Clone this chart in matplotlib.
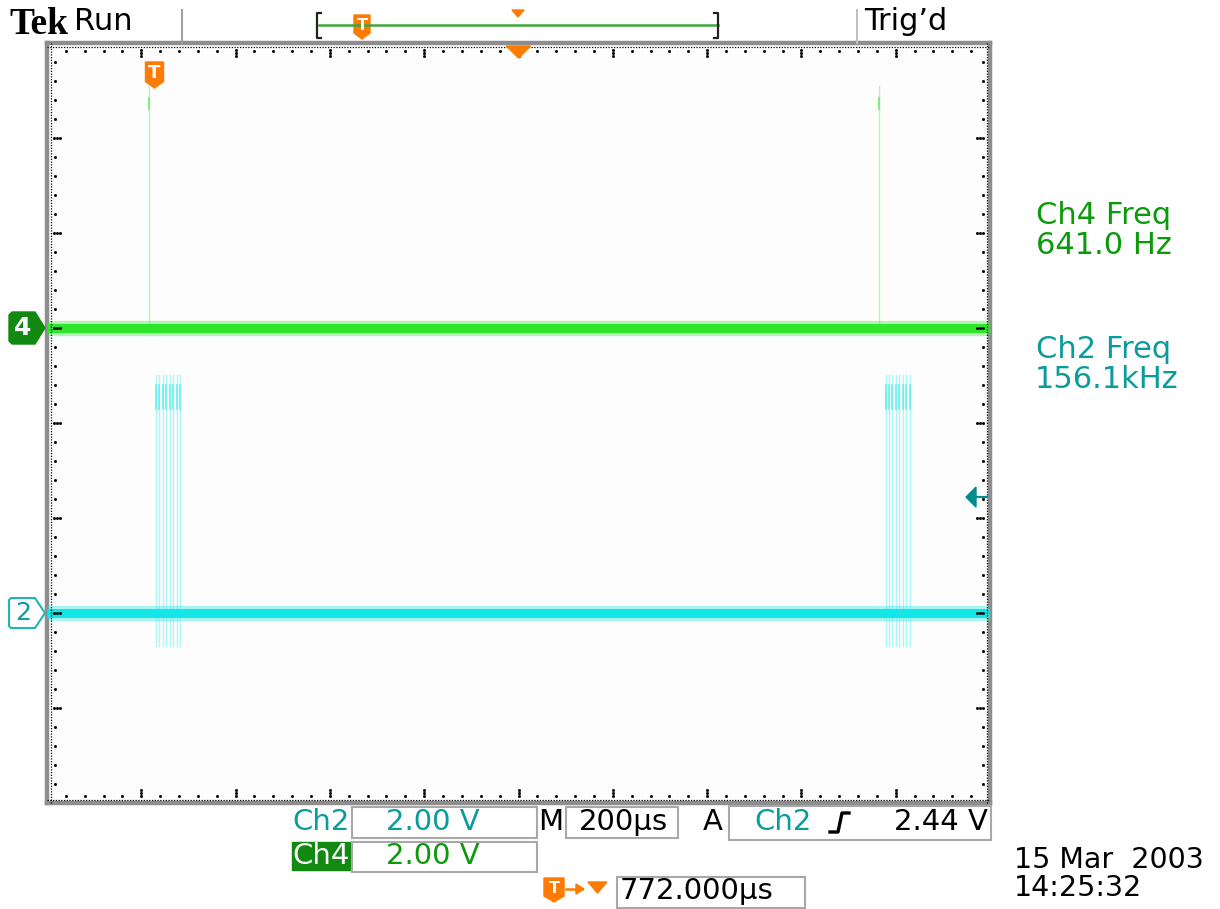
import matplotlib
matplotlib.use("Agg")
import matplotlib.pyplot as plt
from matplotlib.patches import Polygon, Rectangle
from matplotlib.transforms import blended_transform_factory

# ---- acquisition settings -------------------------------------------------
time_per_div_us = 200.0
volts_per_div = 2.0
n_hdiv, n_vdiv = 10, 8
record_us = time_per_div_us * n_hdiv
ch4_offset_div = 1.0
ch2_offset_div = -2.0
trigger_level_v = 2.44
trigger_delay_us = 772.0           # trigger point -> screen centre

# ---- Ch4: narrow pulses ----------------------------------------------------
ch4_pulse_times_us = [216.0, 1764.0]
ch4_pulse_peak_v = [5.1, 5.1]
ch4_pulse_bright_v = (4.6, 4.85)

# ---- Ch2: short bursts of fast edges --------------------------------------
ch2_burst1_us = [231, 238, 245, 252, 260, 267, 275, 282]
ch2_burst2_us = [1779, 1786, 1793, 1800, 1808, 1815, 1822, 1830]
ch2_burst_high_v = 5.0
ch2_burst_low_v = -0.7
ch2_burst_bright_v = (4.3, 4.8)

# ---- readouts --------------------------------------------------------------
ch4_freq_text = "641.0 Hz"
ch2_freq_text = "156.1kHz"
date_text = "15 Mar  2003"
time_text = "14:25:32"

C4 = "#2ee62e"
C4_PALE = "#b8f4b8"
C4_TXT = "#0c9a0c"
C4_BOX = "#128a12"
C2 = "#14e6e6"
C2_PALE = "#aef6f6"
C2_TXT = "#0a9c9c"
ORANGE = "#ff7a00"
GRAY = "#8e8e8e"
FONT = "DejaVu Sans"
FS = 21

W, H = 1220, 909
fig = plt.figure(figsize=(W / 100, H / 100), dpi=100)
fig.patch.set_facecolor("white")

# screen area
L, R, T, B = 47, 990, 43, 803
ax = fig.add_axes([L / W, 1 - B / H, (R - L) / W, (B - T) / H])
ax.set_xlim(0, n_hdiv)
ax.set_ylim(-n_vdiv / 2, n_vdiv / 2)
ax.set_facecolor("#fdfdfd")
ax.set_xticks([])
ax.set_yticks([])
for s in ax.spines.values():
    s.set_color(GRAY)
    s.set_linewidth(3.2)


def xdiv(t_us):
    return t_us / time_per_div_us


def ydiv(v, offset):
    return offset + v / volts_per_div


# graticule dots along the border
px, py = 1 / (R - L), 1 / (B - T)
tr = ax.transAxes
dot = dict(transform=tr, ls="none", marker="s", ms=1.0, color="black", clip_on=False, zorder=6)
for yb in (3.5 * py, 1 - 3.5 * py):
    ax.plot([0, 1], [yb, yb], transform=tr, color="black", lw=0.9, ls=(0, (1, 1.2)), clip_on=False, zorder=6)
for xb in (3.5 * px, 1 - 3.5 * px):
    ax.plot([xb, xb], [0, 1], transform=tr, color="black", lw=0.9, ls=(0, (1, 1.2)), clip_on=False, zorder=6)

hx, hy = [], []
for i in range(1, n_hdiv * 5):
    f = i / (n_hdiv * 5)
    offs = [7, 10, 13] if i % 5 == 0 else [7.5]
    for o in offs:
        hx += [f, f]
        hy += [1 - o * py, o * py]
for i in range(1, n_vdiv * 5):
    f = i / (n_vdiv * 5)
    offs = [7, 10, 13] if i % 5 == 0 else [7.5]
    for o in offs:
        hx += [o * px, 1 - o * px]
        hy += [f, f]
ax.plot(hx, hy, **dot)

# ---- Ch4 trace ---------------------------------------------------------------
for t, vp in zip(ch4_pulse_times_us, ch4_pulse_peak_v):
    ax.plot([xdiv(t)] * 2, [ydiv(0, ch4_offset_div), ydiv(vp, ch4_offset_div)],
            color=C4_PALE, lw=1.0, zorder=2)
    ax.plot([xdiv(t)] * 2, [ydiv(ch4_pulse_bright_v[0], ch4_offset_div),
                            ydiv(ch4_pulse_bright_v[1], ch4_offset_div)],
            color="#7ee87e", lw=1.3, zorder=2)
y4 = ydiv(0, ch4_offset_div)
ax.plot([0, n_hdiv], [y4, y4], color=C4, lw=11, alpha=0.35, solid_capstyle="butt", zorder=3)
ax.plot([0, n_hdiv], [y4, y4], color=C4, lw=6.5, solid_capstyle="butt", zorder=3)

# ---- Ch2 trace ---------------------------------------------------------------
for burst in (ch2_burst1_us, ch2_burst2_us):
    for t in burst:
        ax.plot([xdiv(t)] * 2, [ydiv(ch2_burst_low_v, ch2_offset_div),
                                ydiv(ch2_burst_high_v, ch2_offset_div)],
                color=C2_PALE, lw=1.0, zorder=2)
        ax.plot([xdiv(t)] * 2, [ydiv(ch2_burst_bright_v[0], ch2_offset_div),
                                ydiv(ch2_burst_bright_v[1], ch2_offset_div)],
                color="#6eeeee", lw=1.2, zorder=2)
y2 = ydiv(0, ch2_offset_div)
ax.plot([0, n_hdiv], [y2, y2], color=C2, lw=11, alpha=0.35, solid_capstyle="butt", zorder=3)
ax.plot([0, n_hdiv], [y2, y2], color=C2, lw=6.5, solid_capstyle="butt", zorder=3)

# trigger level arrow on the right edge
bt = blended_transform_factory(ax.transAxes, ax.transData)
ytl = ydiv(trigger_level_v, ch2_offset_div)
ax.plot([1 - 15 * px, 1 - 3 * px], [ytl, ytl], transform=bt, color="#008c8c", lw=1.6, clip_on=False, zorder=7)
ax.add_patch(Polygon([(1 - 24 * px, ytl), (1 - 14 * px, ytl + 10 / 95), (1 - 14 * px, ytl - 10 / 95)],
                     closed=True, transform=bt, color="#008c8c", clip_on=False, zorder=7))

# trigger marker and centre marker at the top of the screen
t_trig = record_us / 2 - trigger_delay_us
bx = blended_transform_factory(ax.transData, ax.transAxes)

xt = xdiv(t_trig)
wdiv = 18 / ((R - L) / n_hdiv)
ytop, hfrac = 1 - 19 * py, 26 * py
pts = [(xt - wdiv / 2, ytop), (xt + wdiv / 2, ytop), (xt + wdiv / 2, ytop - hfrac * 0.75),
       (xt, ytop - hfrac), (xt - wdiv / 2, ytop - hfrac * 0.75)]
ax.add_patch(Polygon(pts, closed=True, transform=bx, color=ORANGE, clip_on=False, zorder=8))
ax.text(xt, ytop - hfrac * 0.42, "T", transform=bx, color="white", fontsize=13, fontweight="bold",
        ha="center", va="center", family=FONT, zorder=9)

xc = xdiv(record_us / 2)
tw = 12 / ((R - L) / n_hdiv)
ax.add_patch(Polygon([(xc - tw, 1 - 3 * py), (xc + tw, 1 - 3 * py), (xc, 1 - 15 * py)], closed=True,
                     transform=bx, color=ORANGE, clip_on=False, zorder=8))

# ---- overlay in pixel coordinates ------------------------------------------
ov = fig.add_axes([0, 0, 1, 1])
ov.set_xlim(0, W)
ov.set_ylim(H, 0)
ov.axis("off")
ov.patch.set_alpha(0)


def txt(x, y, s, color="black", size=FS, ha="left", **kw):
    ov.text(x, y, s, color=color, fontsize=size, ha=ha, va="center", family=kw.pop("family", FONT), **kw)


def tshield(xc, ytop, w, h):
    pts = [(xc - w / 2, ytop), (xc + w / 2, ytop), (xc + w / 2, ytop + h * 0.75),
           (xc, ytop + h), (xc - w / 2, ytop + h * 0.75)]
    ov.add_patch(Polygon(pts, closed=True, color=ORANGE))
    ov.text(xc, ytop + h * 0.42, "T", color="white", fontsize=h * 0.48, fontweight="bold",
            ha="center", va="center", family=FONT)


# top status bar
txt(9, 24, "Tek", size=27, fontweight="bold", family="Liberation Serif")
txt(74, 22, "Run", size=22)
ov.plot([182, 182], [10, 43], color="#a0a0a0", lw=1.5)
ov.plot([857, 857], [10, 43], color="#c0c0c0", lw=1.5)
txt(864, 22, "Trig\u2019d", size=22)

# record view bar
ov.plot([319, 718], [25, 25], color="#3aa83a", lw=1.8)
ov.plot([321, 317, 317, 321], [13, 13, 38, 38], color="#222222", lw=1.6)
ov.plot([714, 718, 718, 714], [13, 13, 38, 38], color="#222222", lw=1.6)
tshield(362, 15, 16, 24)
ov.add_patch(Polygon([(512, 10), (524, 10), (518, 17)], closed=True, color=ORANGE))

# channel ground markers
ov.add_patch(Polygon([(12, 312), (35, 312), (45, 328), (35, 344), (12, 344), (9, 341), (9, 315)],
                     closed=True, facecolor=C4_BOX, edgecolor=C4_BOX))
ov.text(23, 328, "4", color="white", fontsize=18, fontweight="bold", ha="center", va="center", family=FONT)
ov.add_patch(Polygon([(11, 598), (35, 598), (45, 613), (35, 628), (11, 628), (9, 626), (9, 600)],
                     closed=True, facecolor="white", edgecolor="#20b4b4", lw=1.5))
ov.text(23, 613, "2", color=C2_TXT, fontsize=18, ha="center", va="center", family=FONT)

# measurement readouts
txt(1036, 215, "Ch4 Freq", color=C4_TXT, size=22)
txt(1036, 245, ch4_freq_text, color=C4_TXT, size=22)
txt(1036, 349, "Ch2 Freq", color=C2_TXT, size=22)
txt(1035, 380, ch2_freq_text, color=C2_TXT, size=22)

# bottom readout boxes
box = dict(fill=False, edgecolor="#a8a8a8", lw=1.5)
txt(292, 822, "Ch2", color=C2_TXT)
ov.add_patch(Rectangle((352, 807), 185, 31, **box))
txt(433, 822, "2.00 V", color=C2_TXT, ha="center")

ov.add_patch(Rectangle((292, 842), 58, 28, color=C4_BOX))
txt(292, 856, "Ch4", color="white")
ov.add_patch(Rectangle((352, 842), 185, 30, **box))
txt(433, 856, "2.00 V", color=C4_TXT, ha="center")

txt(538, 822, "M")
ov.add_patch(Rectangle((566, 807), 112, 31, **box))
txt(623, 822, "200\u00b5s", ha="center")

txt(703, 822, "A")
ov.add_patch(Rectangle((729, 806), 262, 34, **box))
txt(754, 822, "Ch2", color=C2_TXT)
ov.plot([830, 838, 842, 849], [832, 832, 813, 813], color="black", lw=2.4)
txt(988, 822, "2.44 V", ha="right")

tshield(554, 878, 20, 24)
ov.plot([566, 582], [889, 889], color=ORANGE, lw=1.8)
ov.add_patch(Polygon([(576, 884), (584, 889), (576, 894)], closed=True, color=ORANGE))
ov.add_patch(Polygon([(588, 882), (607, 882), (597.5, 893)], closed=True, color=ORANGE))
ov.add_patch(Rectangle((617, 877), 188, 31, **box))
txt(620, 891, "772.000\u00b5s")

txt(1014, 860, date_text, size=20.5)
txt(1014, 888, time_text, size=20.5)

fig.savefig("out.png", dpi=100, facecolor="white")
